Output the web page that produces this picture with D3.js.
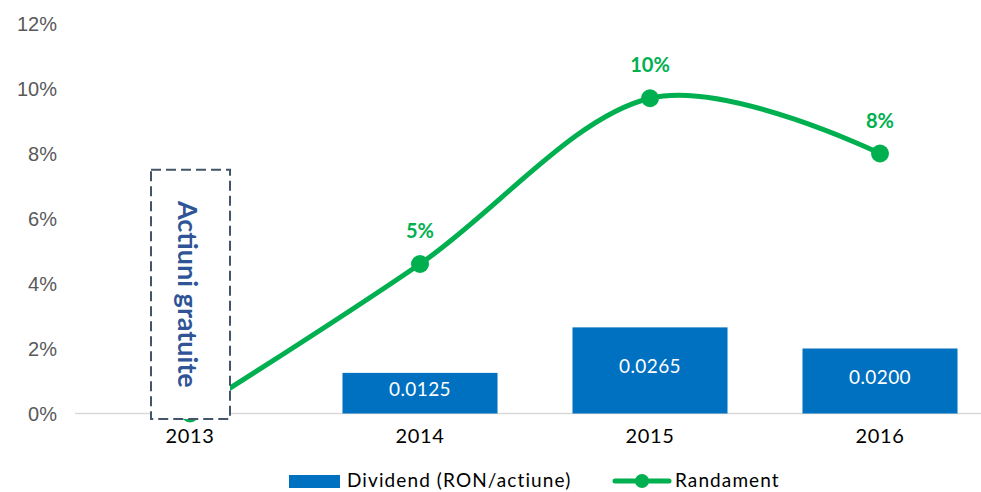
<!DOCTYPE html>
<html><head><meta charset="utf-8">
<script src="https://cdn.jsdelivr.net/npm/d3@7"></script>
<style>body{margin:0;background:#fff}svg{display:block}</style>
</head><body>
<svg id="c" width="981" height="492"></svg>
<script>
const years = ["2013","2014","2015","2016"];
const dividend = [null, 0.0125, 0.0265, 0.0200];
const dividendLabels = ["", "0.0125", "0.0265", "0.0200"];
const randament = [0.0, 4.6, 9.7, 8.0];
const randamentLabels = ["", "5%", "10%", "8%"];
const yTicks = [0, 2, 4, 6, 8, 10, 12];
const seriesNames = ["Dividend (RON/actiune)", "Randament"];
const boxText = "Actiuni gratuite";

const blue = "#0070C0", green = "#00B050";
const svg = d3.select("#c");
const fontC = "Lato, 'Open Sans', sans-serif";

const x = d3.scaleBand().domain(years).range([75, 995]).paddingInner(0.326).paddingOuter(0.163);
const y = d3.scaleLinear().domain([0, 12]).range([413.5, 23.5]);
const y2 = d3.scaleLinear().domain([0, 0.12]).range([413.5, 23.5]);
const cx = d => x(d) + x.bandwidth() / 2;

// y axis labels
const yAxis = d3.axisLeft(y).tickValues(yTicks).tickFormat(d => d + "%").tickSize(0).tickPadding(0);
const ga = svg.append("g").attr("transform", "translate(57,0)").call(yAxis);
ga.select(".domain").remove();
ga.selectAll("text").attr("font-family", "'Liberation Sans', Arial, sans-serif").attr("font-size", 20).attr("fill", "#595959").attr("dy", "0.35em");

// baseline gridline
svg.append("line").attr("x1", 75).attr("x2", 981).attr("y1", y(0)).attr("y2", y(0)).attr("stroke", "#D9D9D9").attr("stroke-width", 1.5);

// x axis labels
const xAxis = d3.axisBottom(x).tickSize(0).tickPadding(0);
const gx = svg.append("g").attr("transform", `translate(0,${y(0)})`).call(xAxis);
gx.select(".domain").remove();
gx.selectAll("text").attr("font-family", fontC).attr("font-size", 20).attr("fill", "#000").attr("dy", "1.45em").attr("letter-spacing", 0.7);

// bars
const barData = years.map((yr, i) => ({yr, v: dividend[i], lab: dividendLabels[i]})).filter(d => d.v != null);
svg.selectAll("rect.bar").data(barData).enter().append("rect").attr("class", "bar")
  .attr("x", d => x(d.yr)).attr("width", x.bandwidth())
  .attr("y", d => y2(d.v)).attr("height", d => y2(0) - y2(d.v)).attr("fill", blue);
svg.selectAll("text.blab").data(barData).enter().append("text").attr("class", "blab")
  .attr("x", d => cx(d.yr)).attr("y", d => (y2(d.v) + y2(0)) / 2 - 5)
  .attr("text-anchor", "middle").attr("dominant-baseline", "central")
  .attr("font-family", fontC).attr("font-size", 19).attr("fill", "#fff").attr("letter-spacing", 0.4).text(d => d.lab);

// line
const pts = years.map((yr, i) => ({yr, v: randament[i], lab: randamentLabels[i]}));
const line = d3.line().x(d => cx(d.yr)).y(d => y(d.v)).curve(d3.curveCardinal.tension(0));
svg.append("path").datum(pts).attr("d", line).attr("fill", "none").attr("stroke", green).attr("stroke-width", 5).attr("stroke-linecap", "round");
svg.selectAll("circle.pt").data(pts).enter().append("circle").attr("class", "pt")
  .attr("cx", d => cx(d.yr)).attr("cy", d => y(d.v)).attr("r", 9).attr("fill", green);
svg.selectAll("text.plab").data(pts).enter().append("text").attr("class", "plab")
  .attr("x", d => cx(d.yr)).attr("y", d => y(d.v) - 34)
  .attr("text-anchor", "middle").attr("dominant-baseline", "central")
  .attr("font-family", fontC).attr("font-weight", "bold").attr("font-size", 20).attr("fill", green).text(d => d.lab);

// dashed box over 2013
const bx0 = cx("2013") - 39, bx1 = cx("2013") + 40, by0 = y(7.5), by1 = y(0) + 5.5;
svg.append("rect").attr("x", bx0).attr("y", by0).attr("width", bx1 - bx0).attr("height", by1 - by0)
  .attr("fill", "#fff").attr("stroke", "#44546A").attr("stroke-width", 2).attr("stroke-dasharray", "10,5");
svg.append("text").attr("transform", `translate(${cx("2013") - 2},${(by0 + by1) / 2}) rotate(90)`)
  .attr("text-anchor", "middle").attr("dominant-baseline", "central")
  .attr("font-family", fontC).attr("font-weight", "bold").attr("font-size", 27).attr("fill", "#2F5597").text(boxText);

// legend
const lg = svg.append("g");
lg.append("rect").attr("x", 289).attr("y", 475).attr("width", 51).attr("height", 13).attr("fill", blue);
lg.append("text").attr("x", 347).attr("y", 487).attr("font-family", fontC).attr("font-size", 19).attr("letter-spacing", 1.1).attr("fill", "#000").text(seriesNames[0]);
lg.append("line").attr("x1", 615).attr("x2", 669).attr("y1", 481).attr("y2", 481).attr("stroke", green).attr("stroke-width", 5).attr("stroke-linecap", "round");
lg.append("circle").attr("cx", 642).attr("cy", 481).attr("r", 7).attr("fill", green);
lg.append("text").attr("x", 675).attr("y", 487).attr("font-family", fontC).attr("font-size", 19).attr("letter-spacing", 1.1).attr("fill", "#000").text(seriesNames[1]);
</script>
</body></html>
